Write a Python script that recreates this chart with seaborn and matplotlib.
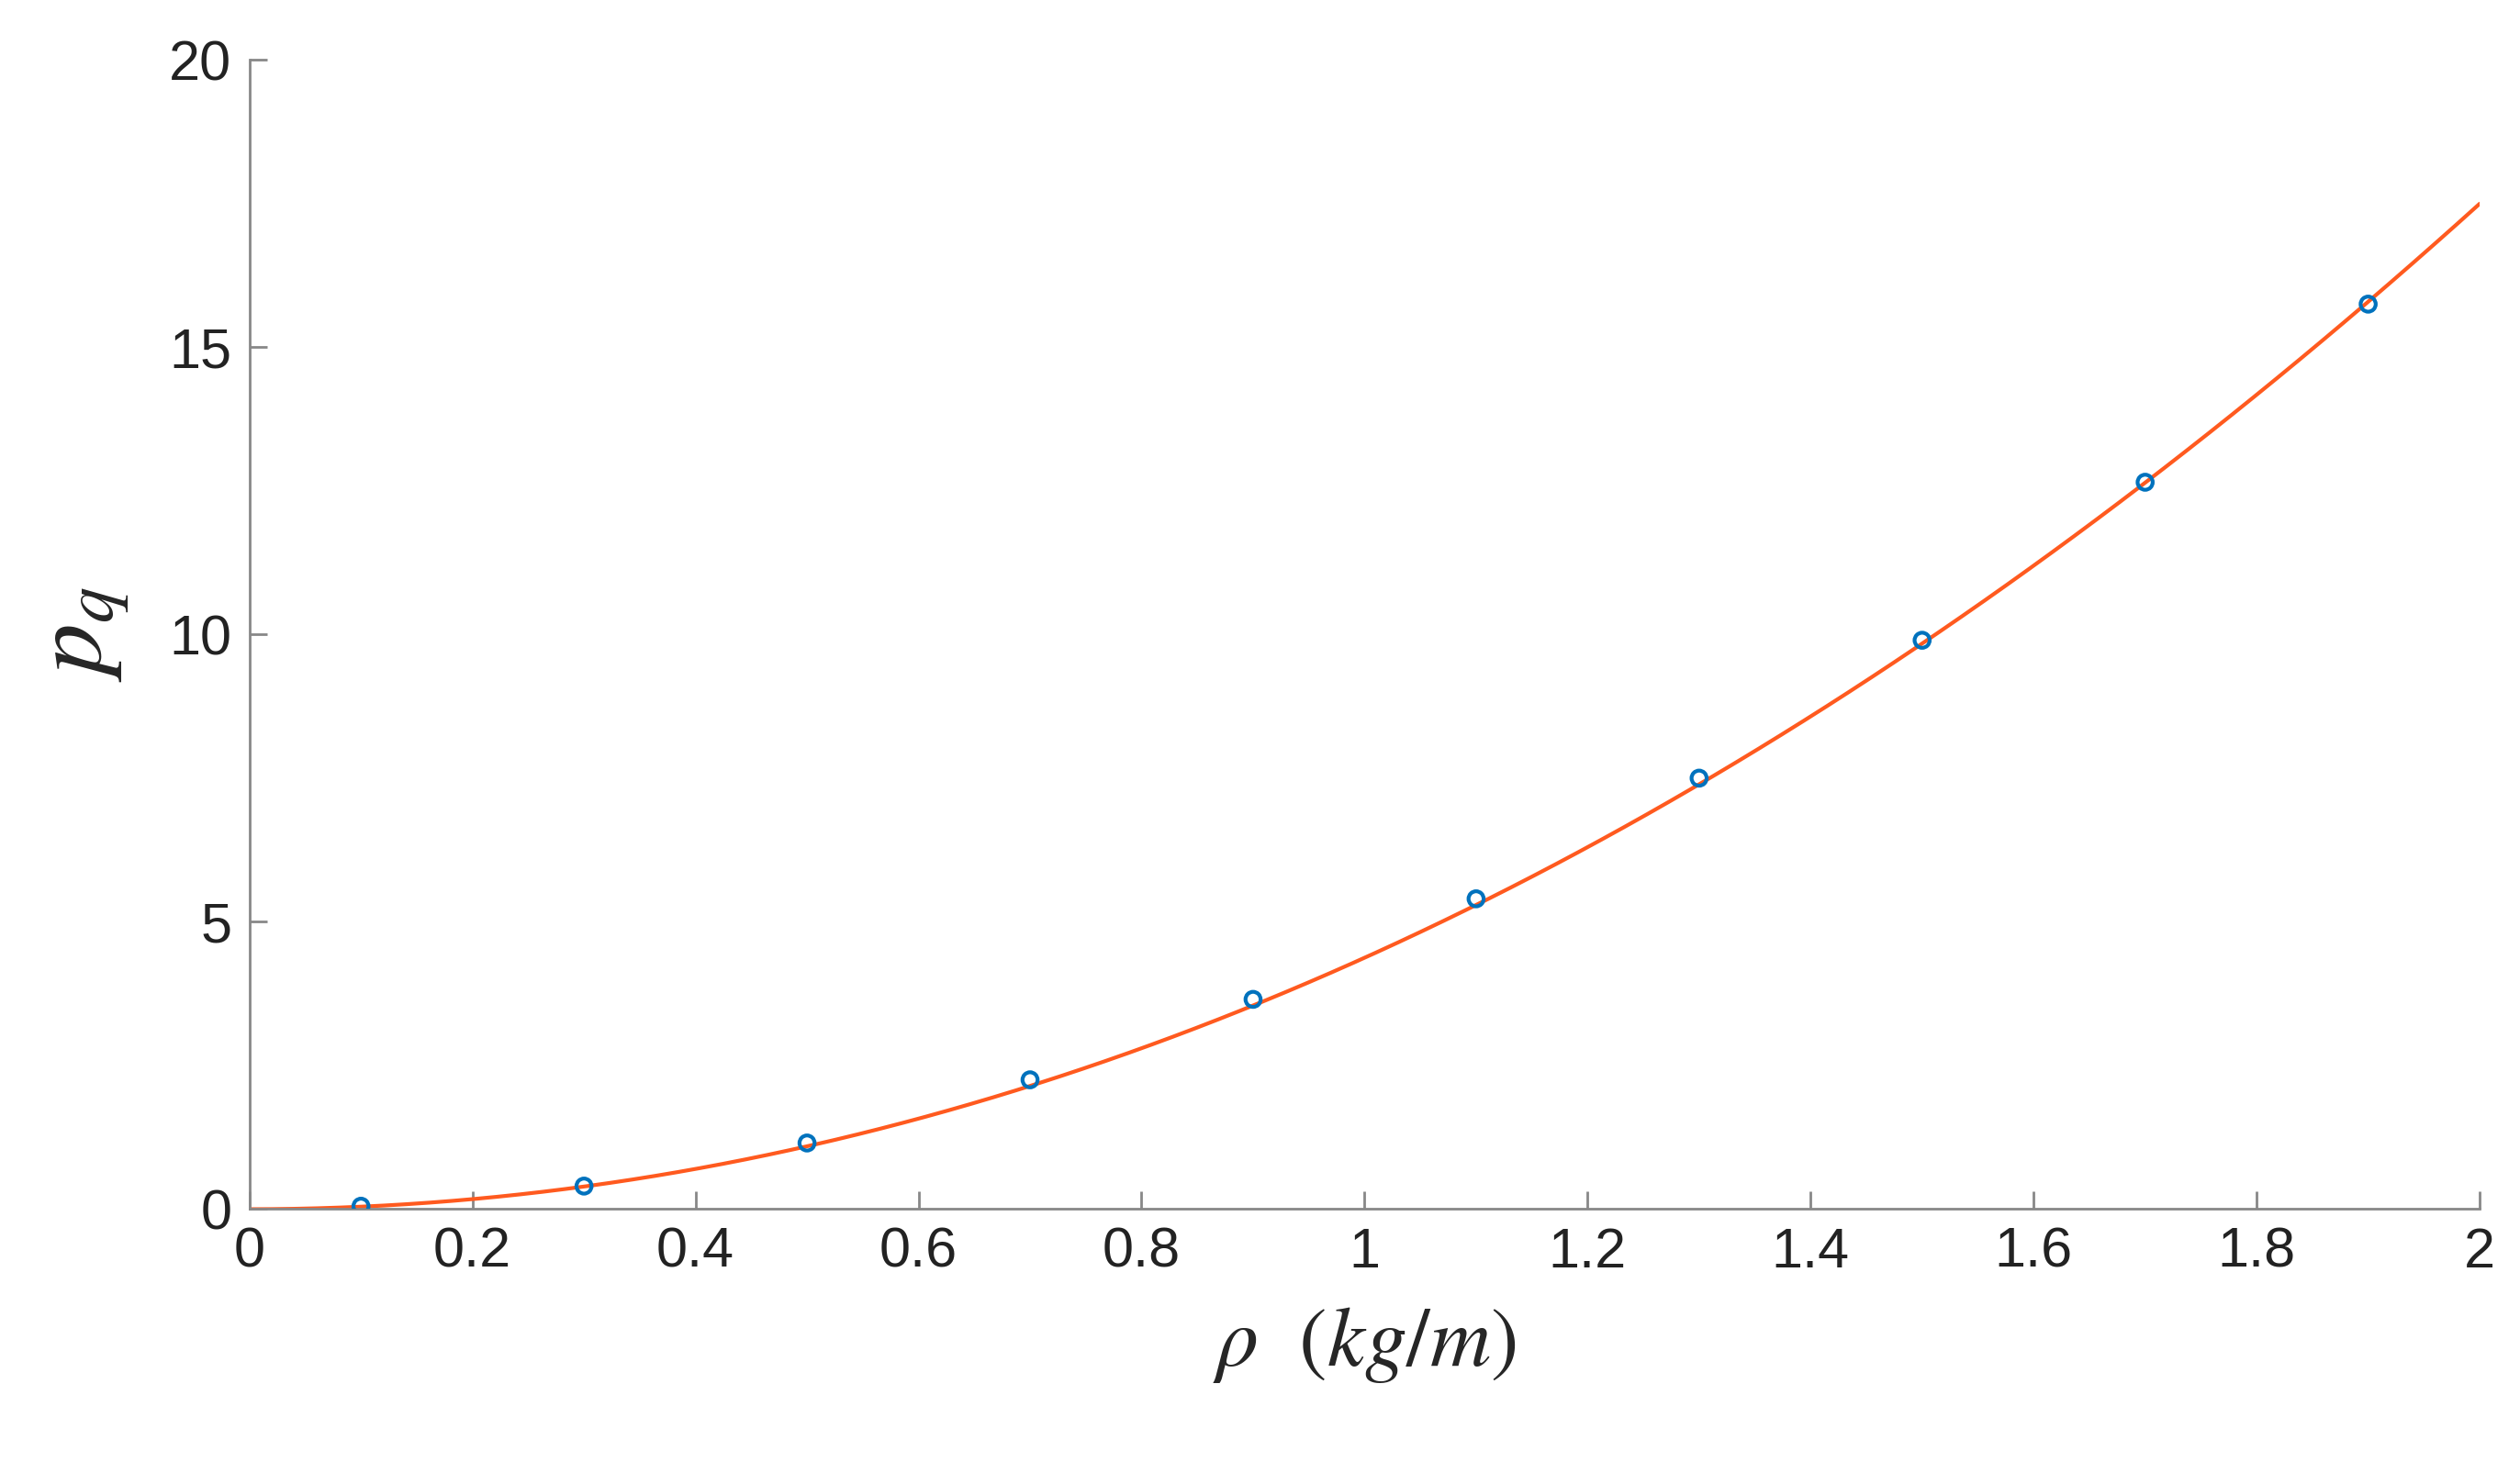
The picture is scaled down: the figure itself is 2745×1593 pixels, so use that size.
import matplotlib
matplotlib.use("Agg")
import matplotlib.pyplot as plt
import seaborn as sns
import numpy as np
import pandas as pd

# measured points
rho_pts = [0.1, 0.3, 0.5, 0.7, 0.9, 1.1, 1.3, 1.5, 1.7, 1.9]
pq_pts = [0.05, 0.4, 1.15, 2.25, 3.65, 5.4, 7.5, 9.9, 12.65, 15.75]
# fitted curve values
rho_fit = [0.0, 0.2, 0.4, 0.6, 0.8, 1.0, 1.2, 1.4, 1.6, 1.8, 2.0]
pq_fit = [0.0, 0.17, 0.7, 1.57, 2.8, 4.38, 6.3, 8.57, 11.2, 14.17, 17.5]
xticks = [0, 0.2, 0.4, 0.6, 0.8, 1, 1.2, 1.4, 1.6, 1.8, 2]
xticklabels = ["0", "0.2", "0.4", "0.6", "0.8", "1", "1.2", "1.4", "1.6", "1.8", "2"]
yticks = [0, 5, 10, 15, 20]

sns.set_style("white")
plt.rcParams['font.family'] = ['Liberation Sans', 'DejaVu Sans']
plt.rcParams['mathtext.fontset'] = 'stix'

fig = plt.figure(figsize=(27.45, 15.93), dpi=100)
ax = fig.add_axes([0.099, 0.173, 0.885, 0.786])
ax.set_xlim(0, 2)
ax.set_ylim(0, 20)

fit_df = pd.DataFrame({"rho": rho_fit, "pq": pq_fit})
pts_df = pd.DataFrame({"rho": rho_pts, "pq": pq_pts})
sns.regplot(data=fit_df, x="rho", y="pq", order=2, ci=None, scatter=False,
            truncate=False, line_kws=dict(color="#FF5A1F", lw=3), ax=ax)
sns.scatterplot(data=pts_df, x="rho", y="pq", ax=ax, marker="o", s=140,
                facecolor="none", edgecolor="#0072BD", linewidth=3, zorder=3)

ax.set_xlim(0, 2)
ax.set_ylim(0, 20)
ax.set_xticks(xticks)
ax.set_xticklabels(xticklabels)
ax.set_yticks(yticks)
for s in ["top", "right"]:
    ax.spines[s].set_visible(False)
for s in ["left", "bottom"]:
    ax.spines[s].set_color("#888888")
    ax.spines[s].set_linewidth(2)
ax.tick_params(bottom=True, left=True, direction="in", length=14, width=2,
               color="#888888", labelsize=44, labelcolor="#222222", pad=14)
ax.set_xlabel(r"$\rho\ \ (kg/m)$", fontsize=66, labelpad=20)
ax.set_ylabel(r"$p_q$", fontsize=80, labelpad=30)

fig.savefig("out.png", dpi=100)
